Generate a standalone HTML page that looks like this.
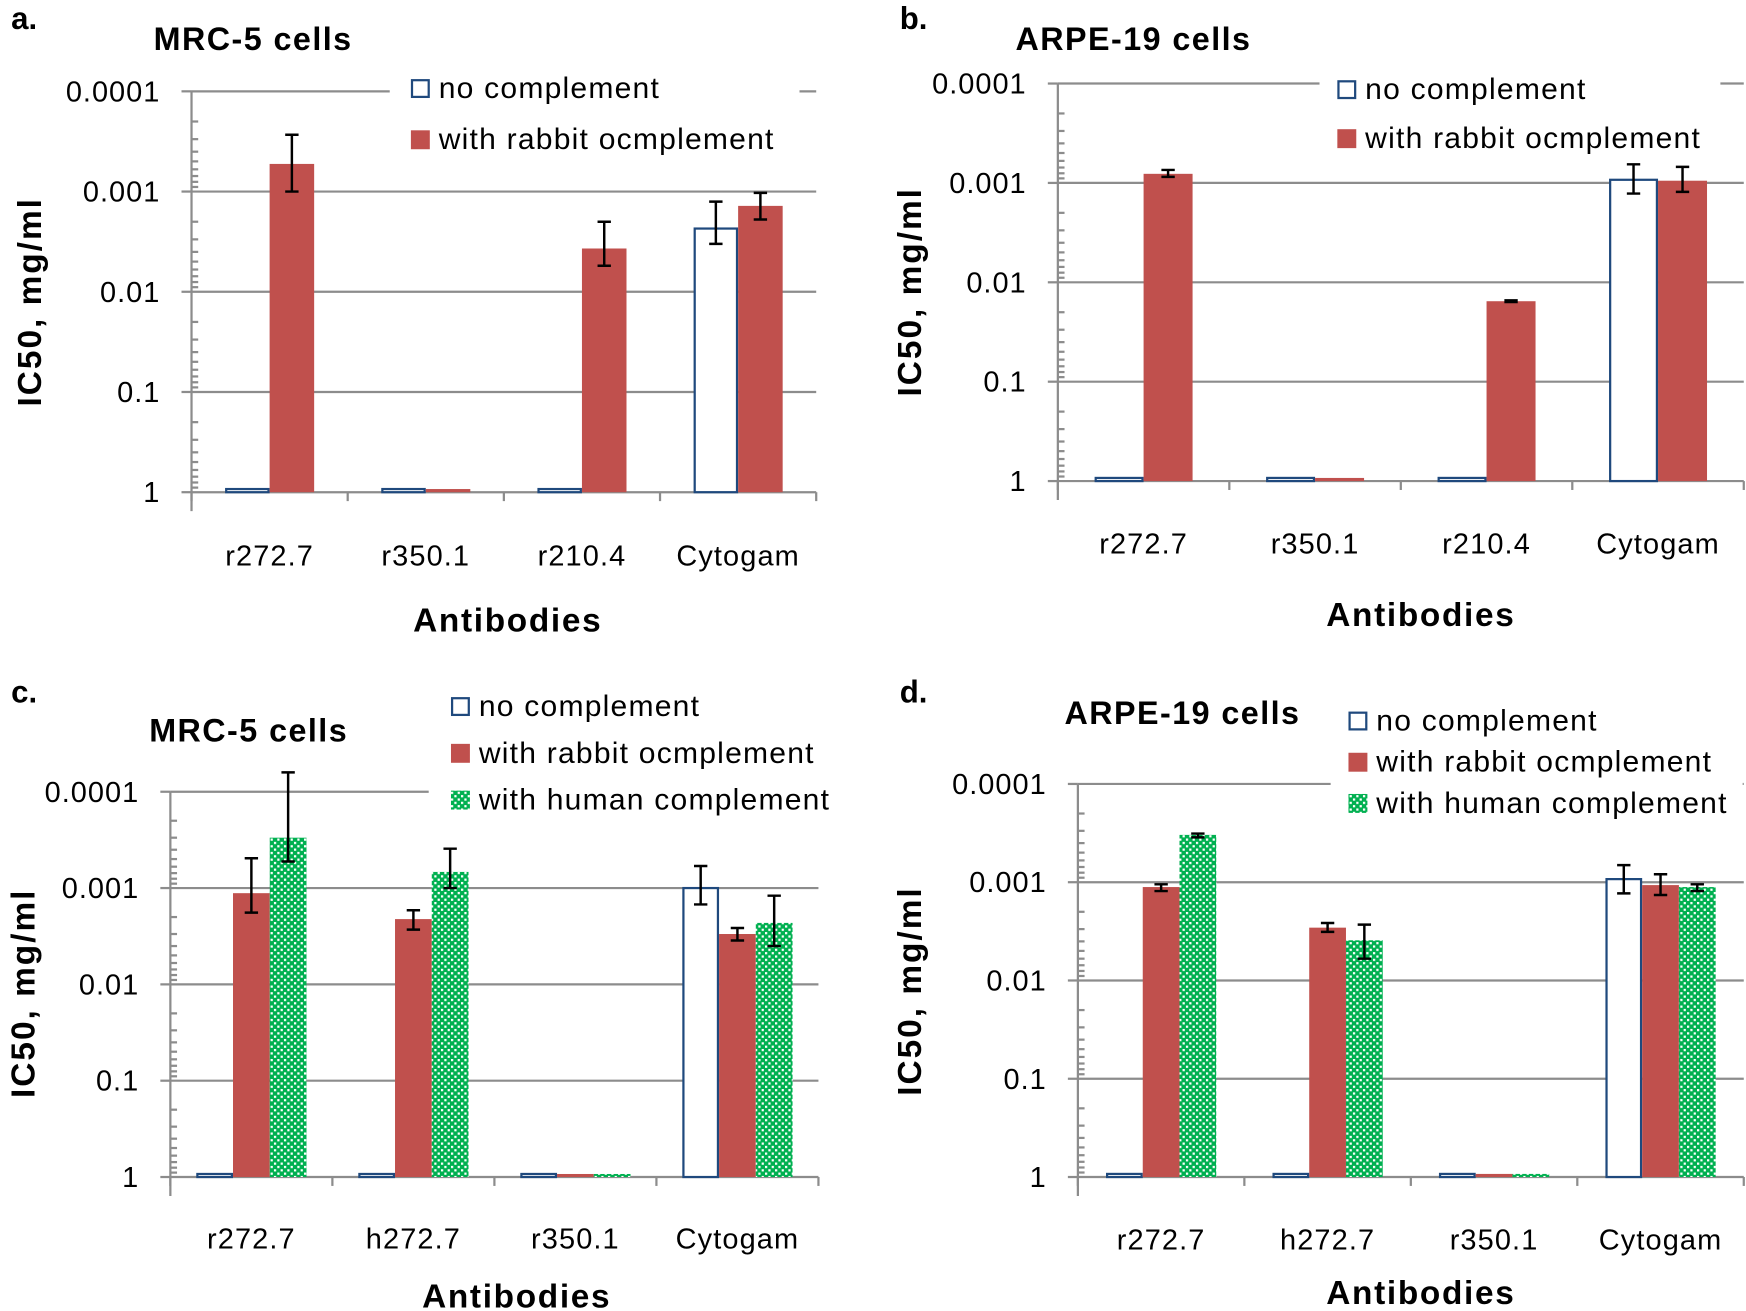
<!DOCTYPE html>
<html><head><meta charset="utf-8"><style>
html,body{margin:0;padding:0;background:#fff}
svg{display:block;font-family:"Liberation Sans",sans-serif}
</style></head><body>
<svg id="fig" width="1746" height="1311" viewBox="0 0 1568 1177.3" xmlns="http://www.w3.org/2000/svg">
<defs>
<pattern id="gp" width="6" height="6" patternUnits="userSpaceOnUse">
<rect width="6" height="6" fill="#00b050"/>
<rect x="0" y="0" width="2" height="2" fill="#fff"/>
<rect x="3" y="3" width="2" height="2" fill="#fff"/>
</pattern>
</defs>
</svg>
<script>
// Panel a
const catsA=["r272.7","r350.1","r210.4","Cytogam"];
const noA=[0.93,0.93,0.93,0.00234];
const noALo=[null,null,null,0.00126];
const noAHi=[null,null,null,0.00333];
const redA=[0.00053,0.93,0.0037,0.00139];
const redALo=[0.000271,null,0.002,0.00103];
const redAHi=[0.001,null,0.0055,0.0019];
// Panel b
const catsB=["r272.7","r350.1","r210.4","Cytogam"];
const noB=[0.93,0.93,0.93,0.00093];
const noBLo=[null,null,null,0.00065];
const noBHi=[null,null,null,0.00128];
const redB=[0.00081,0.93,0.0155,0.00095];
const redBLo=[0.00074,null,0.0152,0.00069];
const redBHi=[0.00087,null,0.0158,0.00123];
// Panel c
const catsC=["r272.7","h272.7","r350.1","Cytogam"];
const noC=[0.93,0.93,0.93,0.001];
const noCLo=[null,null,null,0.00059];
const noCHi=[null,null,null,0.00148];
const redC=[0.00113,0.0021,0.93,0.003];
const redCLo=[0.00049,0.0017,null,0.0026];
const redCHi=[0.0018,0.0027,null,0.0035];
const grnC=[0.0003,0.00068,0.93,0.0023];
const grnCLo=[0.000063,0.00039,null,0.0012];
const grnCHi=[0.00053,0.001,null,0.004];
// Panel d
const catsD=["r272.7","h272.7","r350.1","Cytogam"];
const noD=[0.93,0.93,0.93,0.00093];
const noDLo=[null,null,null,0.00067];
const noDHi=[null,null,null,0.0013];
const redD=[0.00112,0.0029,0.93,0.00107];
const redDLo=[0.00105,0.0026,null,0.00083];
const redDHi=[0.00123,0.0032,null,0.00135];
const grnD=[0.00033,0.0039,0.93,0.00112];
const grnDLo=[0.00032,0.0027,null,0.00105];
const grnDHi=[0.00035,0.006,null,0.00123];
const tickLabels=["0.0001","0.001","0.01","0.1","1"];

const NS="http://www.w3.org/2000/svg";
const svg=document.getElementById('fig');
function mk(tag,attrs,parent,txt){const e=document.createElementNS(NS,tag);for(const k in attrs)e.setAttribute(k,attrs[k]);if(txt!==undefined)e.textContent=txt;(parent||svg).appendChild(e);return e;}

function panel(p){
  const g=mk('g',{});
  
  
  const y=v=>p.y1+p.dec*Math.log10(v);
  for(let i=0;i<5;i++){
    const yy=p.y1-p.dec*(4-i);
    if(i<4){const l=mk('line',{x1:p.x0,x2:p.x1,y1:yy,y2:yy,stroke:'#8c8c8c','stroke-width':2},g);
      }
    const tk=mk('line',{x1:p.x0-9,x2:p.x0,y1:yy,y2:yy,stroke:'#8c8c8c','stroke-width':2},g);
    
    const t=mk('text',{x:p.x0-28,y:yy+9,'font-size':26,'letter-spacing':0.9,'text-anchor':'end',fill:'#000'},g,tickLabels[i]);
    
    if(i<4)for(let m=2;m<10;m++){const ym=yy+p.dec*Math.log10(m);
      const mt=mk('line',{x1:p.x0,x2:p.x0+6,y1:ym,y2:ym,stroke:'#8c8c8c','stroke-width':2},g);
      }
  }
  const lb=mk('rect',{x:p.leg.bx,y:p.leg.by,width:p.leg.bw,height:p.leg.bh,fill:'#fff'},g);
  
  const ya=mk('line',{x1:p.x0,x2:p.x0,y1:p.y1-p.dec*4,y2:p.y1+17,stroke:'#8c8c8c','stroke-width':2},g);
  
  const xa=mk('line',{x1:p.x0,x2:p.x1,y1:p.y1,y2:p.y1,stroke:'#8c8c8c','stroke-width':2},g);
  
  const cw=(p.x1-p.x0)/p.cats.length;
  for(let c=0;c<=p.cats.length;c++){const xx=p.x0+cw*c;
    const t=mk('line',{x1:xx,x2:xx,y1:p.y1,y2:p.y1+8,stroke:'#8c8c8c','stroke-width':2},g);
    }
  const ns=p.series.length;
  p.cats.forEach((cat,c)=>{
    const cx=p.x0+cw*(c+0.5);
    const t=mk('text',{x:cx,y:p.y1+p.catDy,'font-size':26,'letter-spacing':1,'text-anchor':'middle',fill:'#000'},g,cat);
    
    p.series.forEach((s,si)=>{
      const bx=cx-p.bw*ns/2+p.bw*si;
      const top=y(s.v[c]);
      let r;
      if(s.kind==='no'){r=mk('rect',{x:bx+1,y:top,width:p.bw-2,height:Math.max(p.y1-top,1),fill:'#fff',stroke:'#1f497d','stroke-width':2},g);}
      else r=mk('rect',{x:bx,y:top,width:p.bw,height:p.y1-top,fill:s.kind==='red'?'#c0504d':'url(#gp)'},g);
      
      if(s.lo[c]!=null){
        const ex=bx+p.bw/2,ya1=y(s.lo[c]),ya2=y(s.hi[c]);
        const e=mk('path',{d:`M${ex},${ya1}V${ya2}M${ex-6},${ya1}H${ex+6}M${ex-6},${ya2}H${ex+6}`,stroke:'#000','stroke-width':2.2,fill:'none'},g);
        
      }
    });
  });
  const names={no:'no complement',red:'with rabbit ocmplement',grn:'with human complement'};
  p.series.forEach((s,si)=>{
    const ly=p.leg.y+si*p.leg.dy;
    let sw;
    if(s.kind==='no')sw=mk('rect',{x:p.leg.x+1,y:ly-16,width:15,height:15,fill:'#fff',stroke:'#1f497d','stroke-width':2},g);
    else sw=mk('rect',{x:p.leg.x,y:ly-17,width:17,height:17,fill:s.kind==='red'?'#c0504d':'url(#gp)'},g);
    
    const t=mk('text',{x:p.leg.x+25,y:ly,'font-size':27,'letter-spacing':1.1,fill:'#000'},g,names[s.kind]);
    
  });
  const pl=mk('text',{x:p.lab[0],y:p.lab[1],'font-size':28,'font-weight':'bold'},g,p.id+'.');
  
  const ti=mk('text',{x:p.title[0],y:p.title[1],'font-size':29,'letter-spacing':1.3,'font-weight':'bold'},g,p.titleText);
  
  const xt=mk('text',{x:p.xt[0],y:p.xt[1],'font-size':30,'letter-spacing':1.5,'font-weight':'bold','text-anchor':'middle'},g,'Antibodies');
  
  const yt=mk('text',{x:0,y:0,'font-size':30,'letter-spacing':1.8,'font-weight':'bold','text-anchor':'middle',transform:`translate(${p.yt[0]},${p.yt[1]}) rotate(-90)`},g,p.ytText);
  
}

panel({id:'a',x0:172,x1:733,y1:442,dec:90,bw:40,catDy:66,cats:catsA,
  series:[{kind:'no',v:noA,lo:noALo,hi:noAHi},{kind:'red',v:redA,lo:redALo,hi:redAHi}],
  leg:{x:369,y:88,dy:46,bx:350,by:62,bw:368,bh:84},lab:[10,26],title:[138,45],titleText:'MRC-5 cells',
  xt:[456,567],yt:[37,271],ytText:'IC50, mg/ml'});
panel({id:'b',x0:950,x1:1566,y1:432,dec:89.25,bw:44,catDy:65,cats:catsB,
  series:[{kind:'no',v:noB,lo:noBLo,hi:noBHi},{kind:'red',v:redB,lo:redBLo,hi:redBHi}],
  leg:{x:1201,y:89,dy:44,bx:1185,by:62,bw:360,bh:84},lab:[808,26],title:[912,45],titleText:'ARPE-19 cells',
  xt:[1276,562],yt:[827,262],ytText:'IC50,  mg/ml'});
panel({id:'c',x0:153,x1:735,y1:1057,dec:86.5,bw:33,catDy:64,cats:catsC,
  series:[{kind:'no',v:noC,lo:noCLo,hi:noCHi},{kind:'red',v:redC,lo:redCLo,hi:redCHi},{kind:'grn',v:grnC,lo:grnCLo,hi:grnCHi}],
  leg:{x:405,y:643,dy:42,bx:385,by:618,bw:365,bh:118},lab:[10,631],title:[134,666],titleText:'MRC-5 cells',
  xt:[464,1174],yt:[31,892],ytText:'IC50, mg/ml'});
panel({id:'d',x0:968,x1:1566,y1:1057,dec:88.25,bw:33,catDy:65,cats:catsD,
  series:[{kind:'no',v:noD,lo:noDLo,hi:noDHi},{kind:'red',v:redD,lo:redDLo,hi:redDHi},{kind:'grn',v:grnD,lo:grnDLo,hi:grnDHi}],
  leg:{x:1211,y:656,dy:37,bx:1195,by:632,bw:370,bh:110},lab:[808,631],title:[956,650],titleText:'ARPE-19 cells',
  xt:[1276,1171],yt:[827,890],ytText:'IC50, mg/ml'});
</script>
</body></html>
